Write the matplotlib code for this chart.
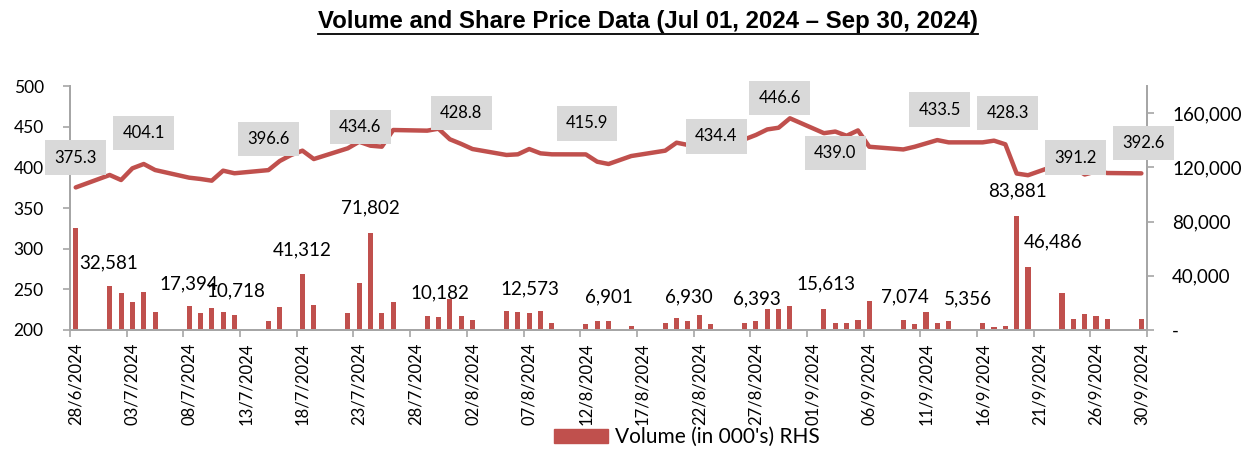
import matplotlib
matplotlib.use("Agg")
import matplotlib.pyplot as plt
import matplotlib.dates as mdates
from matplotlib.patches import Patch
from matplotlib.lines import Line2D
import pandas as pd

# trading days, closing price and volume (in 000's)
trade_dates = ["28/06/2024", "01/07/2024", "02/07/2024", "03/07/2024", "04/07/2024", "05/07/2024",
               "08/07/2024", "09/07/2024", "10/07/2024", "11/07/2024", "12/07/2024",
               "15/07/2024", "16/07/2024", "17/07/2024", "18/07/2024", "19/07/2024",
               "22/07/2024", "23/07/2024", "24/07/2024", "25/07/2024", "26/07/2024",
               "29/07/2024", "30/07/2024", "31/07/2024", "01/08/2024", "02/08/2024",
               "05/08/2024", "06/08/2024", "07/08/2024", "08/08/2024", "09/08/2024",
               "12/08/2024", "13/08/2024", "14/08/2024", "15/08/2024", "16/08/2024",
               "19/08/2024", "20/08/2024", "21/08/2024", "22/08/2024", "23/08/2024",
               "26/08/2024", "27/08/2024", "28/08/2024", "29/08/2024", "30/08/2024",
               "02/09/2024", "03/09/2024", "04/09/2024", "05/09/2024", "06/09/2024",
               "09/09/2024", "10/09/2024", "11/09/2024", "12/09/2024", "13/09/2024",
               "16/09/2024", "17/09/2024", "18/09/2024", "19/09/2024", "20/09/2024",
               "23/09/2024", "24/09/2024", "25/09/2024", "26/09/2024", "27/09/2024",
               "30/09/2024"]
price = [375.3, 390.6, 384.4, 398.8, 404.1, 396.7,
         387.3, 385.7, 383.6, 395.9, 392.7,
         396.6, 407.8, 415.2, 420.5, 410.2,
         423.4, 431.5, 426.6, 425.4, 445.9,
         445.1, 447.5, 434.5, 428.8, 422.5,
         415.2, 416.0, 422.5, 417.2, 416.0,
         415.9, 406.9, 404.1, 409.0, 413.9,
         420.5, 430.3, 427.5, 430.0, 432.0,
         434.4, 439.8, 446.6, 448.7, 460.3,
         442.0, 444.0, 438.8, 445.4, 425.3,
         422.0, 425.3, 429.4, 433.5, 430.7,
         430.7, 432.8, 428.3, 392.4, 390.3,
         405.0, 400.0, 391.2, 395.0, 393.0,
         392.6]
volume = [75600, 32581, 27500, 20600, 28000, 13500,
          17394, 12200, 15900, 13000, 10718,
          7000, 17200, 0, 41312, 18100,
          12200, 34900, 71802, 12700, 20600,
          10182, 9800, 23100, 10200, 7300,
          14200, 13200, 12573, 13700, 5300,
          4100, 6901, 6300, 0, 3300,
          5300, 9000, 6930, 10700, 4600,
          5500, 6393, 15200, 15400, 17400,
          15613, 5300, 5300, 7300, 21100,
          7074, 4600, 13000, 5300, 6300,
          5356, 1900, 2800, 83881, 46486,
          27200, 8300, 12000, 10500, 8000,
          8000]

price_labels = ["375.3", "404.1", "396.6", "434.6", "428.8", "415.9", "434.4",
                "446.6", "439.0", "433.5", "428.3", "391.2", "392.6"]
volume_labels = ["32,581", "17,394", "10,718", "41,312", "71,802", "10,182", "12,573",
                 "6,901", "6,930", "6,393", "15,613", "7,074", "5,356", "83,881", "46,486"]

# label anchors: (days from first date, value on own axis)
price_label_pos = [(0.0, 412), (6.0, 442), (17.0, 435), (25.1, 450), (34.0, 467),
                   (45.1, 454), (56.5, 438), (62.1, 485), (67.0, 418), (76.2, 471),
                   (82.2, 467), (88.2, 412), (94.2, 430)]
volume_label_pos = [(2.9, 49600), (10.0, 34000), (14.1, 28900), (20.0, 59200), (26.0, 90300),
                    (32.1, 27400), (40.1, 30300), (47.0, 24400), (54.1, 24400), (60.1, 22900),
                    (66.2, 34000), (73.1, 24400), (78.7, 22900), (83.1, 102900), (86.2, 65100)]

red = "#C0504D"
grey = "#A6A6A6"
plt.rcParams["font.family"] = ["Lato", "DejaVu Sans"]

d = pd.to_datetime(trade_dates, dayfirst=True)
x = mdates.date2num(d)
x0 = x[0]

fig = plt.figure(figsize=(12.51, 4.51), dpi=100)
ax = fig.add_axes([0.056, 0.2683, 0.8609, 0.541])
ax2 = ax.twinx()
ax.set_zorder(ax2.get_zorder() + 1)
ax.patch.set_visible(False)

ax2.bar(x, volume, width=0.45, color=red)
ax.plot(x, price, color=red, lw=3.2, solid_joinstyle="round", solid_capstyle="round")

ax.set_xlim(x0 - 0.5, x[-1] + 0.5)
ax.set_ylim(200, 500)
ax2.set_ylim(0, 180000)
ax.set_yticks([200, 250, 300, 350, 400, 450, 500])
ax2.set_yticks([0, 40000, 80000, 120000, 160000])
ax2.set_yticklabels(["-" if v == 0 else f"{v:,}" for v in [0, 40000, 80000, 120000, 160000]])

# date labels at category centres, tick marks on category boundaries
lab_x = [x0 + k for k in range(0, 91, 5)] + [x[-1]]
ax.set_xticks(lab_x)
ax.set_xticklabels([mdates.num2date(v).strftime("%d/%-m/%Y") for v in lab_x], rotation=90)
ax.set_xticks([x0 - 0.5 + k for k in range(0, 96, 5)], minor=True)
ax.tick_params(axis="x", which="major", length=0, pad=9, labelsize=12)
ax.tick_params(axis="x", which="minor", length=5, color=grey, width=1.2)
ax.tick_params(axis="y", length=5, color=grey, width=1.2, labelsize=12.5, pad=14)
ax2.tick_params(axis="y", length=5, color=grey, width=1.2, labelsize=13.5, pad=13)

for a in (ax, ax2):
    a.spines["top"].set_visible(False)
    for s in ("left", "right", "bottom"):
        a.spines[s].set_color(grey)
        a.spines[s].set_linewidth(1.3)

for txt, (dx, yv) in zip(price_labels, price_label_pos):
    ax.text(x0 + dx, yv, txt, ha="center", va="center", fontsize=12, zorder=5,
            bbox=dict(boxstyle="square,pad=0.55", fc="#D9D9D9", ec="none"))
for txt, (dx, yv) in zip(volume_labels, volume_label_pos):
    ax2.text(x0 + dx, yv, txt, ha="center", va="center", fontsize=13.5)

title = fig.text(0.518, 0.953, "Volume and Share Price Data (Jul 01, 2024 \u2013 Sep 30, 2024)",
                 ha="center", va="center", fontsize=17.3, fontweight="bold",
                 family="Liberation Sans")
fig.canvas.draw()
bb = title.get_window_extent().transformed(fig.transFigure.inverted())
fig.add_artist(Line2D([bb.x0, bb.x1], [bb.y0 - 0.002, bb.y0 - 0.002], color="black", lw=1.3))

fig.legend(handles=[Patch(color=red)], labels=["Volume (in 000's) RHS"], loc="center",
           bbox_to_anchor=(0.549, 0.031), frameon=False, fontsize=15,
           handlelength=2.6, handleheight=0.65, handletextpad=0.3)

fig.savefig("out.png", dpi=100)
